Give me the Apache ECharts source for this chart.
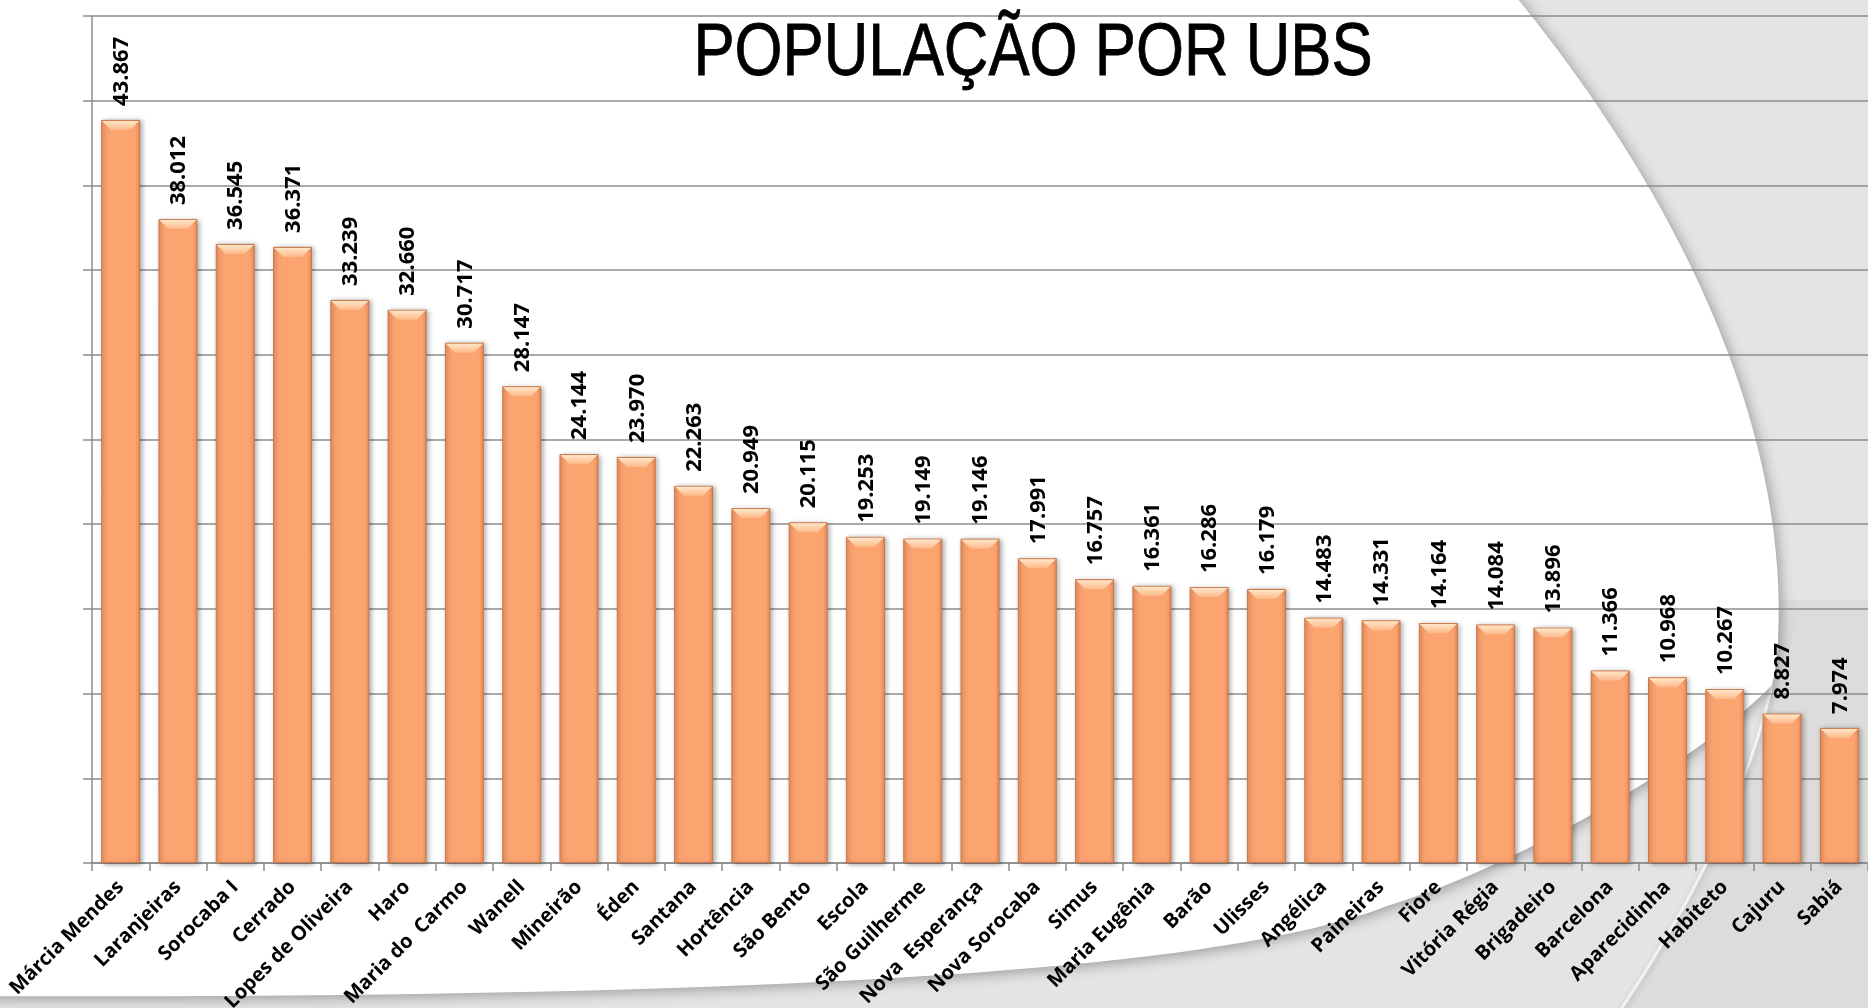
<!DOCTYPE html>
<html><head><meta charset="utf-8">
<script src="https://cdn.jsdelivr.net/npm/echarts@6/dist/echarts.min.js"></script>
<style>html,body{margin:0;padding:0;background:#fff;overflow:hidden}#c{width:1868px;height:1008px}</style>
</head><body><div id="c"></div>
<script>
const titleText = 'POPULAÇÃO POR UBS';
const categories = ['Márcia Mendes','Laranjeiras','Sorocaba I','Cerrado','Lopes de Oliveira','Haro','Maria do  Carmo','Wanell','Mineirão','Éden','Santana','Hortência','São Bento','Escola','São Guilherme','Nova  Esperança','Nova Sorocaba','Simus','Maria Eugênia','Barão','Ulisses','Angélica','Paineiras','Fiore','Vitória Régia','Brigadeiro','Barcelona','Aparecidinha','Habiteto','Cajuru','Sabiá'];
const populacao = [43867,38012,36545,36371,33239,32660,30717,28147,24144,23970,22263,20949,20115,19253,19149,19146,17991,16757,16361,16286,16179,14483,14331,14164,14084,13896,11366,10968,10267,8827,7974];
const yMin = 0, yMax = 50000, yInterval = 5000;

function fmt(v){ return String(v).replace(/\B(?=(\d{3})+(?!\d))/g,'.'); }

// background decoration: sample cubic bezier segments into polygon points
function bez(segs){
  const pts=[];
  segs.forEach(s=>{
    if(s.length===1){ pts.push(s[0]); return; }
    const [p0,p1,p2,p3]=s;
    for(let i=0;i<=40;i++){ const t=i/40, u=1-t;
      pts.push([u*u*u*p0[0]+3*u*u*t*p1[0]+3*u*t*t*p2[0]+t*t*t*p3[0],
                u*u*u*p0[1]+3*u*u*t*p1[1]+3*u*t*t*p2[1]+t*t*t*p3[1]]); }
  });
  return pts;
}
const whiteShape = bez([[[-40,-40]],
  [[1485,-40],[1650,150],[1790,400],[1778,640]],
  [[1778,640],[1777,660],[1775,672],[1772,685]],
  [[1772,685],[1700,760],[1520,865],[1390,905]],
  [[1390,905],[1250,960],[900,1000],[-40,996]]]);
const arcTail = bez([[[1772,685],[1745,800],[1690,910],[1600,1040]]]);
const darkRight = bez([[[1772,685],[1745,800],[1690,910],[1600,1040]],[[1900,1040]],[[1900,600]],[[1778,600]]]);

const chart = echarts.init(document.getElementById('c'), null, {renderer:'canvas'});
const BAR_FRAC = 0.68;
const gridColor = '#8c8c8c';
const fontFam = '"Open Sans", "Noto Sans", sans-serif';

chart.setOption({
  backgroundColor: '#e4e4e4',
  animation: false,
  graphic: [
    { type:'polygon', z:-12, silent:true, shape:{ points:darkRight },
      style:{ fill:'#dcdcdc' } },
    { type:'polyline', z:-11, silent:true, shape:{ points:arcTail },
      style:{ stroke:'#f3f3f3', lineWidth:3, fill:null, shadowBlur:6, shadowOffsetX:2, shadowColor:'rgba(0,0,0,0.18)' } },
    { type:'polygon', z:-10, silent:true, shape:{ points:whiteShape },
      style:{ fill:'#ffffff', shadowBlur:14, shadowOffsetX:2, shadowOffsetY:2, shadowColor:'rgba(0,0,0,0.35)' } },
    { type:'text', z:100, x:1033, y:54, scaleX:0.823, silent:true,
      style:{ text:titleText, font:'75px "Liberation Sans", Arial, sans-serif', fill:'#000', stroke:'#000', lineWidth:0.8, align:'center', verticalAlign:'middle' } }
  ],
  grid: { left:92, right:0, top:16, bottom:145, containLabel:false, outerBoundsMode:'none' },
  xAxis: {
    type:'category', data:categories,
    axisLine:{ show:true, lineStyle:{ color:gridColor, width:1.5 } },
    axisTick:{ show:true, length:8, alignWithLabel:false, lineStyle:{ color:gridColor, width:1.5 } },
    axisLabel:{ rotate:45, interval:0, margin:21, color:'#000', fontSize:20, fontWeight:'bold', fontFamily:fontFam }
  },
  yAxis: {
    type:'value', min:yMin, max:yMax, interval:yInterval,
    axisLine:{ show:true, lineStyle:{ color:gridColor, width:1.5 } },
    axisTick:{ show:true, length:9, lineStyle:{ color:gridColor, width:1.5 } },
    axisLabel:{ show:false },
    splitLine:{ show:true, lineStyle:{ color:gridColor, width:1.5 } }
  },
  series: [
    { type:'bar', data:populacao, barWidth:(BAR_FRAC*100)+'%', z:3,
      itemStyle:{
        color:{ type:'linear', x:0, y:0, x2:1, y2:0, colorStops:[
          {offset:0, color:'#ee8f5c'},{offset:0.12, color:'#fca470'},{offset:0.88, color:'#fca470'},{offset:1, color:'#ec8b58'} ] },
        borderColor:'#c9794c', borderWidth:1,
        shadowBlur:5, shadowOffsetX:2, shadowOffsetY:1, shadowColor:'rgba(0,0,0,0.35)'
      },
      label:{ show:false }
    },
    { type:'custom', z:4, silent:true,
      data: populacao.map((v,i)=>[i,v]),
      renderItem:function(params, api){
        const v = api.value(1);
        const p = api.coord([api.value(0), v]);
        const w = api.size([1,0])[0]*BAR_FRAC;
        const b = 9;
        const x0 = p[0]-w/2+1, x1 = p[0]+w/2-1, y = p[1]+1;
        return { type:'group', children:[
          { type:'polygon',
            shape:{ points:[[x0,y],[x1,y],[x1-b,y+b],[x0+b,y+b]] },
            style:{ fill:{ type:'linear', x:0, y:0, x2:0, y2:1, colorStops:[{offset:0,color:'#ffe6c8'},{offset:1,color:'#fdb98a'}] } } },
          { type:'text', x:p[0]+1, y:p[1]-14, rotation:Math.PI/2,
            style:{ text:fmt(v), font:'bold 22px ' + fontFam, fill:'#000', align:'left', verticalAlign:'middle' } }
        ]};
      }
    }
  ]
});
</script>
</body></html>
